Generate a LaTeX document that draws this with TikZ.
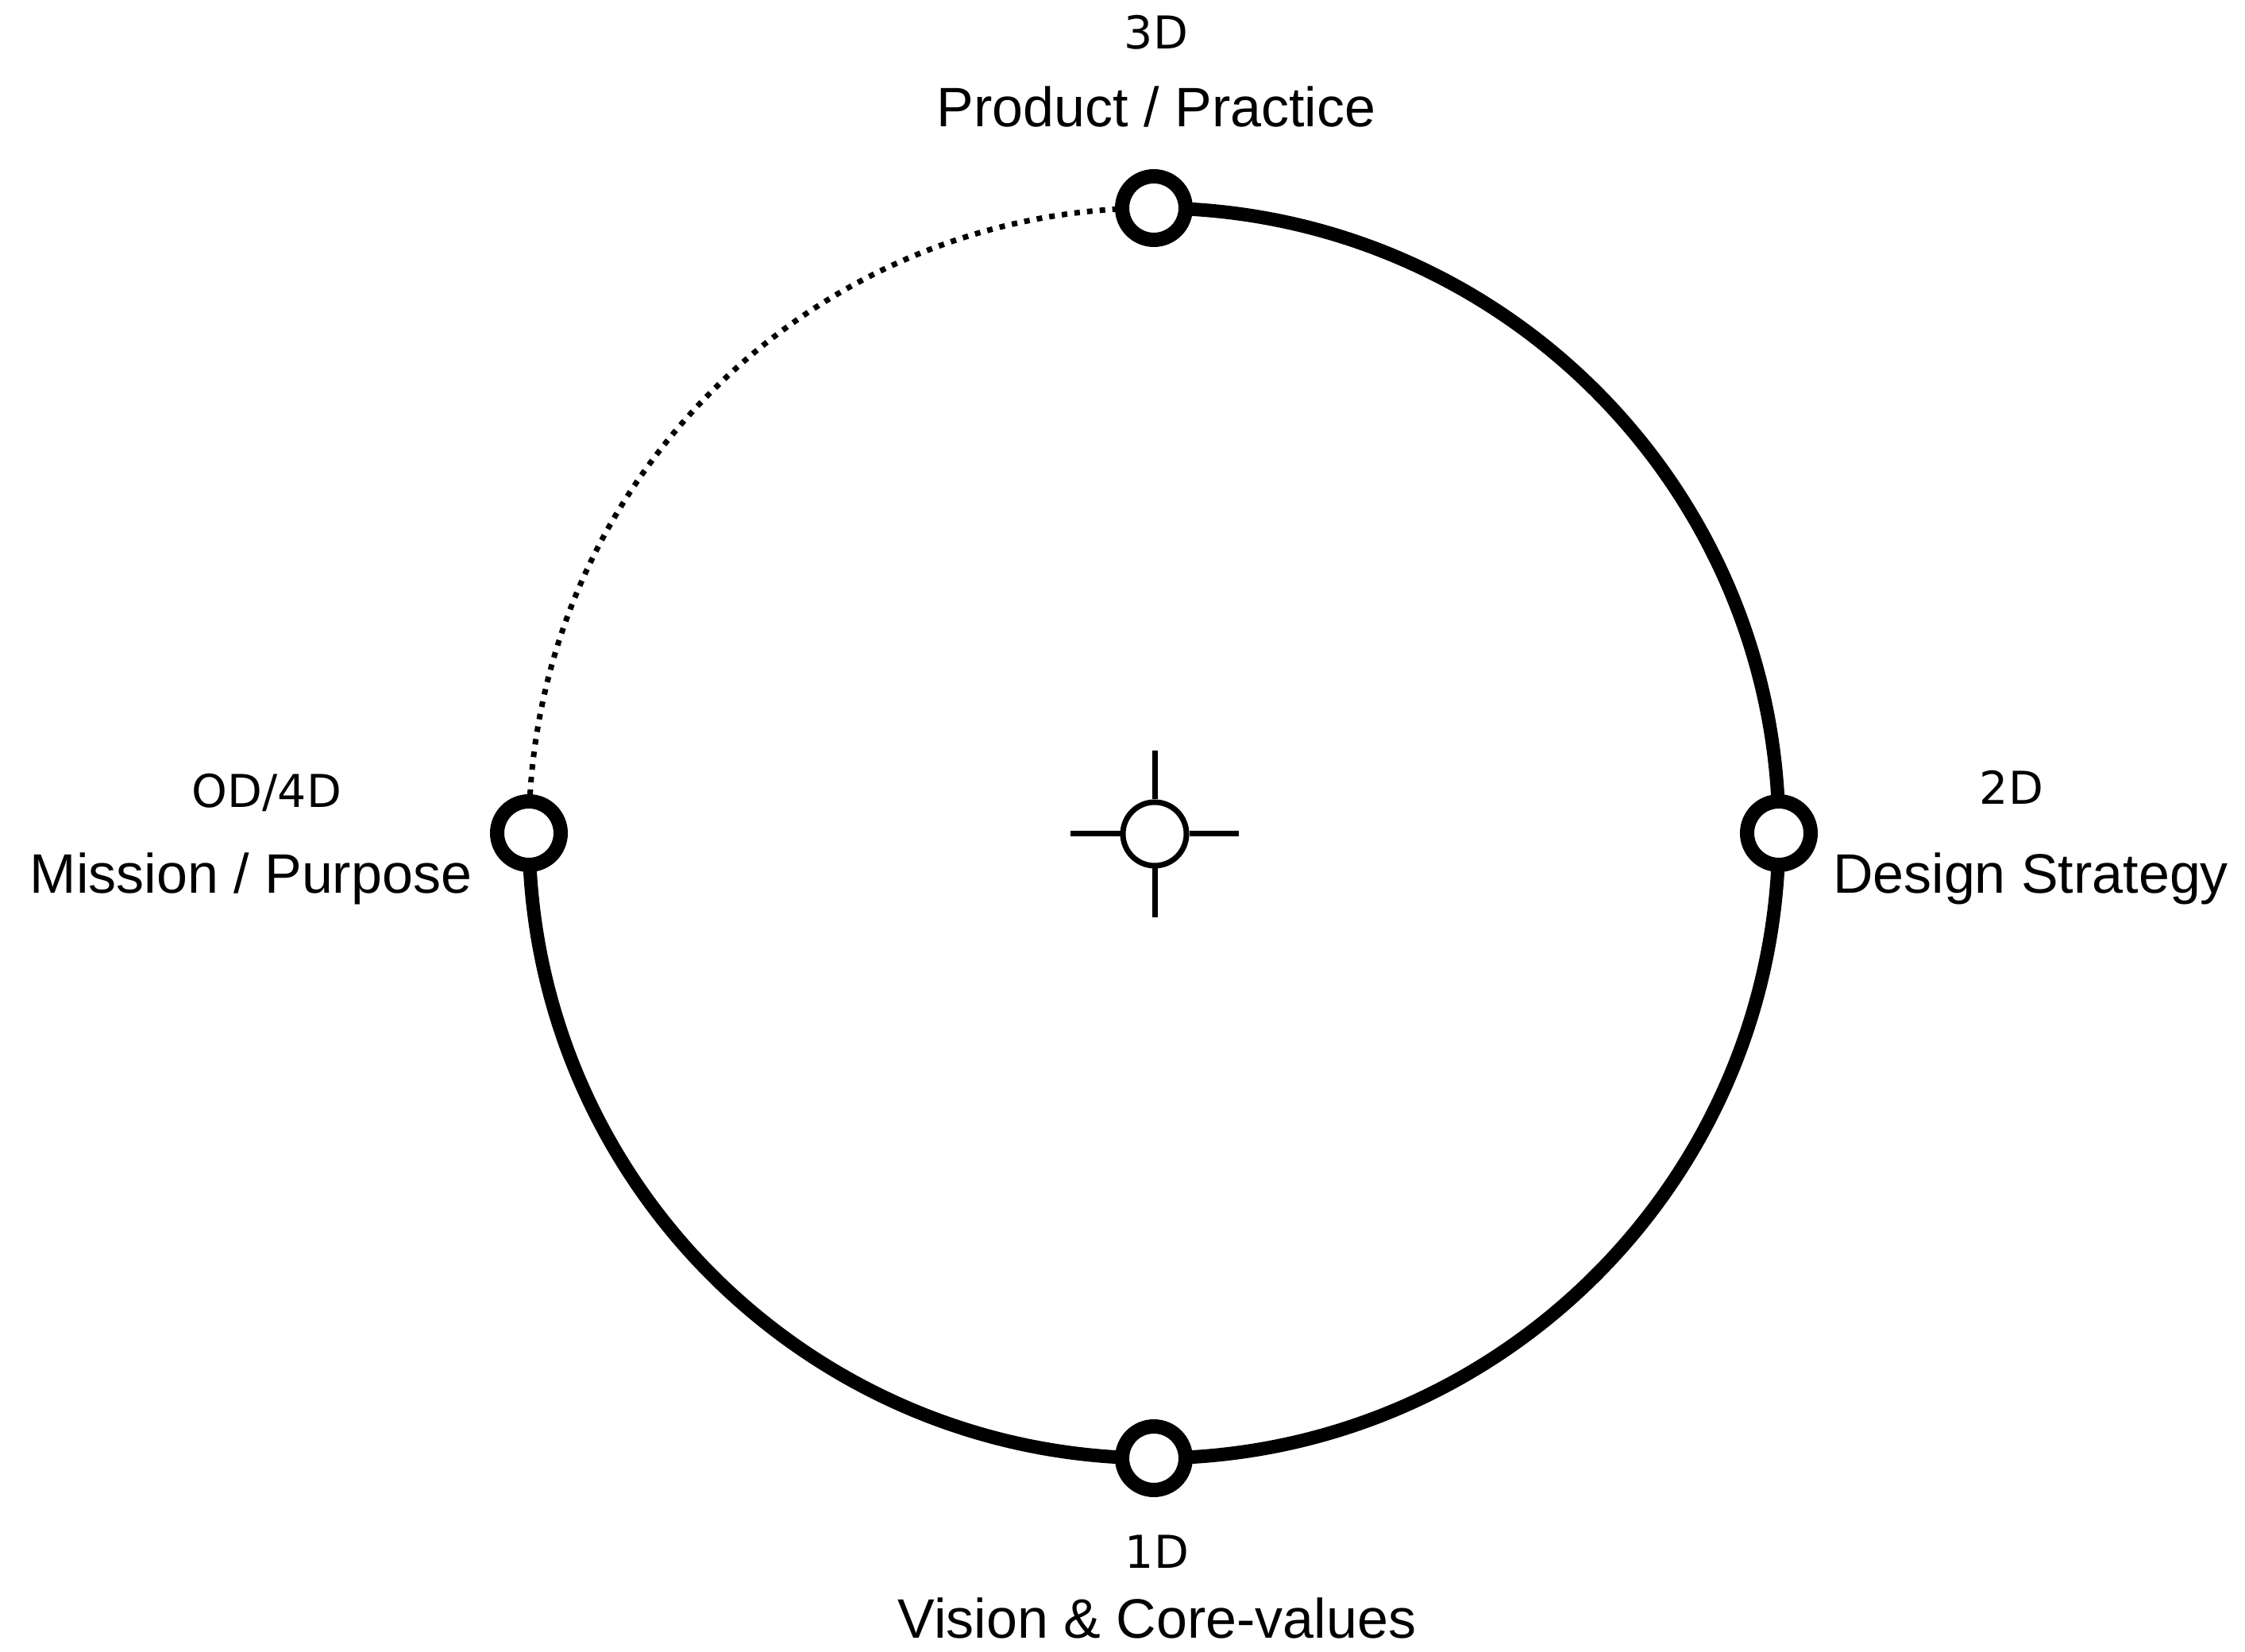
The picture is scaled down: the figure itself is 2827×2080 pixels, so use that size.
\documentclass[tikz,border=0pt]{standalone}
\usepackage{fontspec}
\setmainfont{Liberation Sans}
\newfontfamily\dejavu{DejaVu Sans}
\usetikzlibrary{backgrounds}
\tikzset{
  ring/.style={circle, draw=black, fill=white, line width=18pt, minimum size=80pt, inner sep=0pt},
  bigtext/.style={anchor=base, inner sep=0pt, font=\fontsize{70}{80}\selectfont},
  smalltext/.style={anchor=base, inner sep=0pt, font=\dejavu\fontsize{57}{66}\selectfont},
  solidarc/.style={line width=17pt},
  dotarc/.style={line width=7pt, dash pattern=on 7pt off 9pt},
  hub/.style={circle, draw=black, line width=7pt, fill=white, minimum size=80pt, inner sep=0pt},
  arm/.style={line width=7pt}
}
\begin{document}
\begin{tikzpicture}[x=1pt,y=1pt]
  \useasboundingbox (0,0) rectangle (2827,2080);

  % ring nodes on the main circle (centre 1453,1031; radius 787)
  \node[ring] (top) at (1453,1818) {};
  \node[ring] (right) at (2240,1031) {};
  \node[ring] (bottom) at (1453,244) {};
  \node[ring] (left) at (666,1031) {};

  \begin{scope}[on background layer]
    \fill[white] (0,0) rectangle (2827,2080);
    \draw[solidarc] (top.center) arc[start angle=90, end angle=-180, radius=787pt];
    \draw[dotarc] (left.center) arc[start angle=180, end angle=90, radius=787pt];
  \end{scope}

  % centre marker
  \node[hub] (hub) at (1454,1030) {};
  \coordinate (armN) at (1454,1135);
  \coordinate (armS) at (1454,925);
  \coordinate (armE) at (1560,1030);
  \coordinate (armW) at (1348,1030);
  \draw[arm] (hub.north) -- (armN);
  \draw[arm] (hub.south) -- (armS);
  \draw[arm] (hub.east) -- (armE);
  \draw[arm] (hub.west) -- (armW);

  % labels
  \node[smalltext] (l3) at (1456,2018) {3D};
  \node[bigtext] (t3) at (1456,1920) {Product / Practice};
  \node[smalltext] (l0) at (336,1063) {OD/4D};
  \node[bigtext] (t0) at (316,955) {Mission / Purpose};
  \node[smalltext] (l2) at (2533,1067) {2D};
  \node[bigtext] (t2) at (2557,955) {Design Strategy};
  \node[smalltext] (l1) at (1457,105) {1D};
  \node[bigtext] (t1) at (1457,17) {Vision \& Core-values};
\end{tikzpicture}
\end{document}
